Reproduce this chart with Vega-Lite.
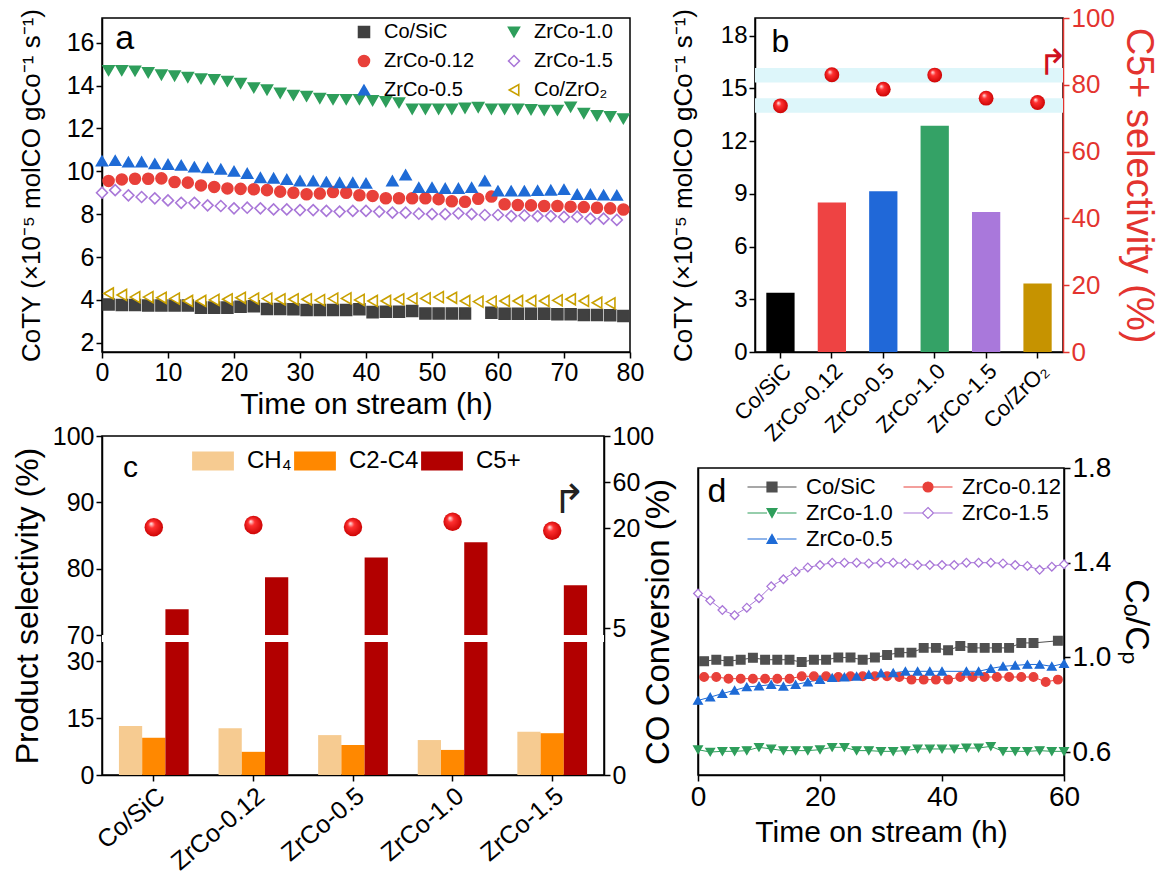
{
  "$schema": "https://vega.github.io/schema/vega-lite/v6.json",
  "background": "white",
  "padding": {"left": 10, "top": 4, "right": 2, "bottom": 2},
  "config": {
    "font": "Liberation Sans",
    "view": {"stroke": "black", "strokeWidth": 1.5},
    "axis": {"domainColor": "black", "domainWidth": 1.5, "tickColor": "black", "tickWidth": 1.5, "tickSize": 6, "labelColor": "black", "titleColor": "black", "titleFontWeight": "normal", "grid": false, "labelFlush": false, "labelOverlap": false, "zindex": 1, "labelFontSize": 24, "titleFontSize": 28},
    "legend": {"labelFont": "Liberation Sans", "labelColor": "black"},
    "text": {"font": "Liberation Sans"}
  },
  "datasets": {
    "dA": [
      {"sa":"Co/SiC","t":1,"v":3.79},{"sa":"Co/SiC","t":3,"v":3.76},{"sa":"Co/SiC","t":5,"v":3.76},{"sa":"Co/SiC","t":7,"v":3.74},{"sa":"Co/SiC","t":9,"v":3.74},{"sa":"Co/SiC","t":11,"v":3.74},{"sa":"Co/SiC","t":13,"v":3.74},{"sa":"Co/SiC","t":15,"v":3.64},{"sa":"Co/SiC","t":17,"v":3.64},{"sa":"Co/SiC","t":19,"v":3.64},{"sa":"Co/SiC","t":21,"v":3.68},{"sa":"Co/SiC","t":23,"v":3.7},{"sa":"Co/SiC","t":25,"v":3.58},{"sa":"Co/SiC","t":27,"v":3.58},{"sa":"Co/SiC","t":29,"v":3.56},{"sa":"Co/SiC","t":31,"v":3.53},{"sa":"Co/SiC","t":33,"v":3.53},{"sa":"Co/SiC","t":35,"v":3.53},{"sa":"Co/SiC","t":37,"v":3.53},{"sa":"Co/SiC","t":39,"v":3.56},{"sa":"Co/SiC","t":41,"v":3.43},{"sa":"Co/SiC","t":43,"v":3.45},{"sa":"Co/SiC","t":45,"v":3.45},{"sa":"Co/SiC","t":47,"v":3.48},{"sa":"Co/SiC","t":49,"v":3.37},{"sa":"Co/SiC","t":51,"v":3.37},{"sa":"Co/SiC","t":53,"v":3.37},{"sa":"Co/SiC","t":55,"v":3.37},{"sa":"Co/SiC","t":59,"v":3.4},{"sa":"Co/SiC","t":61,"v":3.35},{"sa":"Co/SiC","t":63,"v":3.35},{"sa":"Co/SiC","t":65,"v":3.35},{"sa":"Co/SiC","t":67,"v":3.35},{"sa":"Co/SiC","t":69,"v":3.33},{"sa":"Co/SiC","t":71,"v":3.33},{"sa":"Co/SiC","t":73,"v":3.3},{"sa":"Co/SiC","t":75,"v":3.3},{"sa":"Co/SiC","t":77,"v":3.28},{"sa":"Co/SiC","t":79,"v":3.25},
      {"sa":"Co/ZrO₂","t":1,"v":4.3},{"sa":"Co/ZrO₂","t":3,"v":4.23},{"sa":"Co/ZrO₂","t":5,"v":4.13},{"sa":"Co/ZrO₂","t":7,"v":4.13},{"sa":"Co/ZrO₂","t":9,"v":4.1},{"sa":"Co/ZrO₂","t":11,"v":4.06},{"sa":"Co/ZrO₂","t":13,"v":3.95},{"sa":"Co/ZrO₂","t":15,"v":3.95},{"sa":"Co/ZrO₂","t":17,"v":4.0},{"sa":"Co/ZrO₂","t":19,"v":4.03},{"sa":"Co/ZrO₂","t":21,"v":4.1},{"sa":"Co/ZrO₂","t":23,"v":4.06},{"sa":"Co/ZrO₂","t":25,"v":4.06},{"sa":"Co/ZrO₂","t":27,"v":4.03},{"sa":"Co/ZrO₂","t":29,"v":4.03},{"sa":"Co/ZrO₂","t":31,"v":4.03},{"sa":"Co/ZrO₂","t":33,"v":3.99},{"sa":"Co/ZrO₂","t":35,"v":4.06},{"sa":"Co/ZrO₂","t":37,"v":4.07},{"sa":"Co/ZrO₂","t":39,"v":4.0},{"sa":"Co/ZrO₂","t":41,"v":3.95},{"sa":"Co/ZrO₂","t":43,"v":3.95},{"sa":"Co/ZrO₂","t":45,"v":4.03},{"sa":"Co/ZrO₂","t":47,"v":4.06},{"sa":"Co/ZrO₂","t":49,"v":4.07},{"sa":"Co/ZrO₂","t":51,"v":4.13},{"sa":"Co/ZrO₂","t":53,"v":4.1},{"sa":"Co/ZrO₂","t":55,"v":3.95},{"sa":"Co/ZrO₂","t":57,"v":3.92},{"sa":"Co/ZrO₂","t":59,"v":3.92},{"sa":"Co/ZrO₂","t":61,"v":3.95},{"sa":"Co/ZrO₂","t":63,"v":3.95},{"sa":"Co/ZrO₂","t":65,"v":3.95},{"sa":"Co/ZrO₂","t":67,"v":3.95},{"sa":"Co/ZrO₂","t":69,"v":3.98},{"sa":"Co/ZrO₂","t":71,"v":4.03},{"sa":"Co/ZrO₂","t":73,"v":3.95},{"sa":"Co/ZrO₂","t":75,"v":3.87},{"sa":"Co/ZrO₂","t":77,"v":3.84},
      {"sa":"ZrCo-0.12","t":1,"v":9.55},{"sa":"ZrCo-0.12","t":3,"v":9.62},{"sa":"ZrCo-0.12","t":5,"v":9.65},{"sa":"ZrCo-0.12","t":7,"v":9.65},{"sa":"ZrCo-0.12","t":9,"v":9.67},{"sa":"ZrCo-0.12","t":11,"v":9.5},{"sa":"ZrCo-0.12","t":13,"v":9.47},{"sa":"ZrCo-0.12","t":15,"v":9.34},{"sa":"ZrCo-0.12","t":17,"v":9.27},{"sa":"ZrCo-0.12","t":19,"v":9.2},{"sa":"ZrCo-0.12","t":21,"v":9.18},{"sa":"ZrCo-0.12","t":23,"v":9.16},{"sa":"ZrCo-0.12","t":25,"v":9.12},{"sa":"ZrCo-0.12","t":27,"v":9.05},{"sa":"ZrCo-0.12","t":29,"v":9.0},{"sa":"ZrCo-0.12","t":31,"v":8.93},{"sa":"ZrCo-0.12","t":33,"v":8.96},{"sa":"ZrCo-0.12","t":35,"v":9.03},{"sa":"ZrCo-0.12","t":37,"v":9.0},{"sa":"ZrCo-0.12","t":39,"v":8.88},{"sa":"ZrCo-0.12","t":41,"v":8.85},{"sa":"ZrCo-0.12","t":43,"v":8.74},{"sa":"ZrCo-0.12","t":45,"v":8.74},{"sa":"ZrCo-0.12","t":47,"v":8.74},{"sa":"ZrCo-0.12","t":49,"v":8.74},{"sa":"ZrCo-0.12","t":51,"v":8.7},{"sa":"ZrCo-0.12","t":53,"v":8.6},{"sa":"ZrCo-0.12","t":55,"v":8.58},{"sa":"ZrCo-0.12","t":57,"v":8.72},{"sa":"ZrCo-0.12","t":59,"v":8.82},{"sa":"ZrCo-0.12","t":61,"v":8.46},{"sa":"ZrCo-0.12","t":63,"v":8.43},{"sa":"ZrCo-0.12","t":65,"v":8.41},{"sa":"ZrCo-0.12","t":67,"v":8.38},{"sa":"ZrCo-0.12","t":69,"v":8.38},{"sa":"ZrCo-0.12","t":71,"v":8.35},{"sa":"ZrCo-0.12","t":73,"v":8.33},{"sa":"ZrCo-0.12","t":75,"v":8.3},{"sa":"ZrCo-0.12","t":77,"v":8.27},{"sa":"ZrCo-0.12","t":79,"v":8.22},
      {"sa":"ZrCo-0.5","t":0,"v":10.48},{"sa":"ZrCo-0.5","t":2,"v":10.5},{"sa":"ZrCo-0.5","t":4,"v":10.43},{"sa":"ZrCo-0.5","t":6,"v":10.44},{"sa":"ZrCo-0.5","t":8,"v":10.35},{"sa":"ZrCo-0.5","t":10,"v":10.32},{"sa":"ZrCo-0.5","t":12,"v":10.28},{"sa":"ZrCo-0.5","t":14,"v":10.2},{"sa":"ZrCo-0.5","t":16,"v":10.17},{"sa":"ZrCo-0.5","t":18,"v":10.1},{"sa":"ZrCo-0.5","t":20,"v":10.0},{"sa":"ZrCo-0.5","t":22,"v":9.9},{"sa":"ZrCo-0.5","t":24,"v":9.7},{"sa":"ZrCo-0.5","t":26,"v":9.68},{"sa":"ZrCo-0.5","t":28,"v":9.62},{"sa":"ZrCo-0.5","t":30,"v":9.55},{"sa":"ZrCo-0.5","t":32,"v":9.55},{"sa":"ZrCo-0.5","t":34,"v":9.5},{"sa":"ZrCo-0.5","t":36,"v":9.47},{"sa":"ZrCo-0.5","t":38,"v":9.47},{"sa":"ZrCo-0.5","t":40,"v":9.44},{"sa":"ZrCo-0.5","t":44,"v":9.55},{"sa":"ZrCo-0.5","t":46,"v":9.83},{"sa":"ZrCo-0.5","t":48,"v":9.24},{"sa":"ZrCo-0.5","t":50,"v":9.24},{"sa":"ZrCo-0.5","t":52,"v":9.2},{"sa":"ZrCo-0.5","t":54,"v":9.2},{"sa":"ZrCo-0.5","t":56,"v":9.24},{"sa":"ZrCo-0.5","t":58,"v":9.55},{"sa":"ZrCo-0.5","t":60,"v":9.08},{"sa":"ZrCo-0.5","t":62,"v":9.08},{"sa":"ZrCo-0.5","t":64,"v":9.08},{"sa":"ZrCo-0.5","t":66,"v":9.1},{"sa":"ZrCo-0.5","t":68,"v":9.12},{"sa":"ZrCo-0.5","t":70,"v":9.15},{"sa":"ZrCo-0.5","t":72,"v":8.92},{"sa":"ZrCo-0.5","t":74,"v":8.92},{"sa":"ZrCo-0.5","t":76,"v":8.89},{"sa":"ZrCo-0.5","t":78,"v":8.88},
      {"sa":"ZrCo-1.0","t":1,"v":14.7},{"sa":"ZrCo-1.0","t":3,"v":14.7},{"sa":"ZrCo-1.0","t":5,"v":14.68},{"sa":"ZrCo-1.0","t":7,"v":14.6},{"sa":"ZrCo-1.0","t":9,"v":14.5},{"sa":"ZrCo-1.0","t":11,"v":14.45},{"sa":"ZrCo-1.0","t":13,"v":14.38},{"sa":"ZrCo-1.0","t":15,"v":14.32},{"sa":"ZrCo-1.0","t":17,"v":14.28},{"sa":"ZrCo-1.0","t":19,"v":14.2},{"sa":"ZrCo-1.0","t":21,"v":14.1},{"sa":"ZrCo-1.0","t":23,"v":13.9},{"sa":"ZrCo-1.0","t":25,"v":13.8},{"sa":"ZrCo-1.0","t":27,"v":13.65},{"sa":"ZrCo-1.0","t":29,"v":13.55},{"sa":"ZrCo-1.0","t":31,"v":13.5},{"sa":"ZrCo-1.0","t":33,"v":13.4},{"sa":"ZrCo-1.0","t":35,"v":13.35},{"sa":"ZrCo-1.0","t":37,"v":13.35},{"sa":"ZrCo-1.0","t":39,"v":13.35},{"sa":"ZrCo-1.0","t":41,"v":13.3},{"sa":"ZrCo-1.0","t":43,"v":13.25},{"sa":"ZrCo-1.0","t":45,"v":13.2},{"sa":"ZrCo-1.0","t":47,"v":12.9},{"sa":"ZrCo-1.0","t":49,"v":12.9},{"sa":"ZrCo-1.0","t":51,"v":12.9},{"sa":"ZrCo-1.0","t":53,"v":12.9},{"sa":"ZrCo-1.0","t":55,"v":12.95},{"sa":"ZrCo-1.0","t":57,"v":12.98},{"sa":"ZrCo-1.0","t":59,"v":12.9},{"sa":"ZrCo-1.0","t":61,"v":12.9},{"sa":"ZrCo-1.0","t":63,"v":12.9},{"sa":"ZrCo-1.0","t":65,"v":12.88},{"sa":"ZrCo-1.0","t":67,"v":12.85},{"sa":"ZrCo-1.0","t":69,"v":12.85},{"sa":"ZrCo-1.0","t":71,"v":13.0},{"sa":"ZrCo-1.0","t":73,"v":12.7},{"sa":"ZrCo-1.0","t":75,"v":12.6},{"sa":"ZrCo-1.0","t":77,"v":12.55},{"sa":"ZrCo-1.0","t":79,"v":12.45},
      {"sa":"ZrCo-1.5","t":0,"v":9.0},{"sa":"ZrCo-1.5","t":2,"v":9.12},{"sa":"ZrCo-1.5","t":4,"v":8.88},{"sa":"ZrCo-1.5","t":6,"v":8.8},{"sa":"ZrCo-1.5","t":8,"v":8.74},{"sa":"ZrCo-1.5","t":10,"v":8.64},{"sa":"ZrCo-1.5","t":12,"v":8.53},{"sa":"ZrCo-1.5","t":14,"v":8.53},{"sa":"ZrCo-1.5","t":16,"v":8.41},{"sa":"ZrCo-1.5","t":18,"v":8.38},{"sa":"ZrCo-1.5","t":20,"v":8.27},{"sa":"ZrCo-1.5","t":22,"v":8.3},{"sa":"ZrCo-1.5","t":24,"v":8.27},{"sa":"ZrCo-1.5","t":26,"v":8.22},{"sa":"ZrCo-1.5","t":28,"v":8.22},{"sa":"ZrCo-1.5","t":30,"v":8.19},{"sa":"ZrCo-1.5","t":32,"v":8.19},{"sa":"ZrCo-1.5","t":34,"v":8.15},{"sa":"ZrCo-1.5","t":36,"v":8.12},{"sa":"ZrCo-1.5","t":38,"v":8.15},{"sa":"ZrCo-1.5","t":40,"v":8.15},{"sa":"ZrCo-1.5","t":42,"v":8.12},{"sa":"ZrCo-1.5","t":44,"v":8.07},{"sa":"ZrCo-1.5","t":46,"v":8.07},{"sa":"ZrCo-1.5","t":48,"v":8.02},{"sa":"ZrCo-1.5","t":50,"v":8.0},{"sa":"ZrCo-1.5","t":52,"v":8.0},{"sa":"ZrCo-1.5","t":54,"v":8.04},{"sa":"ZrCo-1.5","t":56,"v":8.0},{"sa":"ZrCo-1.5","t":58,"v":7.96},{"sa":"ZrCo-1.5","t":60,"v":7.96},{"sa":"ZrCo-1.5","t":62,"v":7.91},{"sa":"ZrCo-1.5","t":64,"v":7.94},{"sa":"ZrCo-1.5","t":66,"v":7.91},{"sa":"ZrCo-1.5","t":68,"v":7.91},{"sa":"ZrCo-1.5","t":70,"v":7.87},{"sa":"ZrCo-1.5","t":72,"v":7.88},{"sa":"ZrCo-1.5","t":74,"v":7.79},{"sa":"ZrCo-1.5","t":76,"v":7.79},{"sa":"ZrCo-1.5","t":78,"v":7.73}
    ],
    "dB": [
      {"cat":"Co/SiC","coty":3.37,"sel":73.7},{"cat":"ZrCo-0.12","coty":8.5,"sel":83.0},{"cat":"ZrCo-0.5","coty":9.14,"sel":78.7},{"cat":"ZrCo-1.0","coty":12.87,"sel":82.9},{"cat":"ZrCo-1.5","coty":7.96,"sel":76.0},{"cat":"Co/ZrO₂","coty":3.9,"sel":74.7}
    ],
    "bandsB": [{"lo":80.7,"hi":85.0},{"lo":71.6,"hi":76.0}],
    "dC": [
      {"cat":"Co/SiC","prod":"CH₄","val":12.9},{"cat":"Co/SiC","prod":"C2-C4","val":9.8},{"cat":"Co/SiC","prod":"C5+","val":73.9},
      {"cat":"ZrCo-0.12","prod":"CH₄","val":12.3},{"cat":"ZrCo-0.12","prod":"C2-C4","val":6.1},{"cat":"ZrCo-0.12","prod":"C5+","val":78.7},
      {"cat":"ZrCo-0.5","prod":"CH₄","val":10.5},{"cat":"ZrCo-0.5","prod":"C2-C4","val":7.9},{"cat":"ZrCo-0.5","prod":"C5+","val":81.7},
      {"cat":"ZrCo-1.0","prod":"CH₄","val":9.2},{"cat":"ZrCo-1.0","prod":"C2-C4","val":6.6},{"cat":"ZrCo-1.0","prod":"C5+","val":84.0},
      {"cat":"ZrCo-1.5","prod":"CH₄","val":11.4},{"cat":"ZrCo-1.5","prod":"C2-C4","val":11.0},{"cat":"ZrCo-1.5","prod":"C5+","val":77.5}
    ],
    "convC": [
      {"cat":"Co/SiC","conv":20.6},{"cat":"ZrCo-0.12","conv":22.6},{"cat":"ZrCo-0.5","conv":20.9},{"cat":"ZrCo-1.0","conv":25.5},{"cat":"ZrCo-1.5","conv":17.3}
    ],
    "gapC": [{"lo":35,"hi":70}],
    "dD": [
      {"sd":"Co/SiC","t":1,"v":0.984},{"sd":"Co/SiC","t":3,"v":0.99},{"sd":"Co/SiC","t":5,"v":0.984},{"sd":"Co/SiC","t":7,"v":0.99},{"sd":"Co/SiC","t":9,"v":0.998},{"sd":"Co/SiC","t":11,"v":0.99},{"sd":"Co/SiC","t":13,"v":0.99},{"sd":"Co/SiC","t":15,"v":0.99},{"sd":"Co/SiC","t":17,"v":0.98},{"sd":"Co/SiC","t":19,"v":0.99},{"sd":"Co/SiC","t":21,"v":0.99},{"sd":"Co/SiC","t":23,"v":0.999},{"sd":"Co/SiC","t":25,"v":0.999},{"sd":"Co/SiC","t":27,"v":0.99},{"sd":"Co/SiC","t":29,"v":0.999},{"sd":"Co/SiC","t":31,"v":1.01},{"sd":"Co/SiC","t":33,"v":1.02},{"sd":"Co/SiC","t":35,"v":1.02},{"sd":"Co/SiC","t":37,"v":1.04},{"sd":"Co/SiC","t":39,"v":1.04},{"sd":"Co/SiC","t":41,"v":1.03},{"sd":"Co/SiC","t":43,"v":1.048},{"sd":"Co/SiC","t":45,"v":1.04},{"sd":"Co/SiC","t":47,"v":1.04},{"sd":"Co/SiC","t":49,"v":1.04},{"sd":"Co/SiC","t":51,"v":1.04},{"sd":"Co/SiC","t":53,"v":1.061},{"sd":"Co/SiC","t":55,"v":1.061},{"sd":"Co/SiC","t":59,"v":1.07},
      {"sd":"ZrCo-0.12","t":1,"v":0.917},{"sd":"ZrCo-0.12","t":3,"v":0.917},{"sd":"ZrCo-0.12","t":5,"v":0.91},{"sd":"ZrCo-0.12","t":7,"v":0.91},{"sd":"ZrCo-0.12","t":9,"v":0.91},{"sd":"ZrCo-0.12","t":11,"v":0.91},{"sd":"ZrCo-0.12","t":13,"v":0.91},{"sd":"ZrCo-0.12","t":15,"v":0.91},{"sd":"ZrCo-0.12","t":17,"v":0.92},{"sd":"ZrCo-0.12","t":19,"v":0.92},{"sd":"ZrCo-0.12","t":21,"v":0.92},{"sd":"ZrCo-0.12","t":23,"v":0.917},{"sd":"ZrCo-0.12","t":25,"v":0.92},{"sd":"ZrCo-0.12","t":27,"v":0.92},{"sd":"ZrCo-0.12","t":29,"v":0.92},{"sd":"ZrCo-0.12","t":31,"v":0.92},{"sd":"ZrCo-0.12","t":33,"v":0.917},{"sd":"ZrCo-0.12","t":35,"v":0.906},{"sd":"ZrCo-0.12","t":37,"v":0.906},{"sd":"ZrCo-0.12","t":39,"v":0.906},{"sd":"ZrCo-0.12","t":41,"v":0.906},{"sd":"ZrCo-0.12","t":43,"v":0.917},{"sd":"ZrCo-0.12","t":45,"v":0.917},{"sd":"ZrCo-0.12","t":47,"v":0.917},{"sd":"ZrCo-0.12","t":49,"v":0.917},{"sd":"ZrCo-0.12","t":51,"v":0.917},{"sd":"ZrCo-0.12","t":53,"v":0.917},{"sd":"ZrCo-0.12","t":55,"v":0.917},{"sd":"ZrCo-0.12","t":57,"v":0.896},{"sd":"ZrCo-0.12","t":59,"v":0.906},
      {"sd":"ZrCo-1.0","t":0,"v":0.61},{"sd":"ZrCo-1.0","t":2,"v":0.6},{"sd":"ZrCo-1.0","t":4,"v":0.603},{"sd":"ZrCo-1.0","t":6,"v":0.603},{"sd":"ZrCo-1.0","t":8,"v":0.606},{"sd":"ZrCo-1.0","t":10,"v":0.62},{"sd":"ZrCo-1.0","t":12,"v":0.613},{"sd":"ZrCo-1.0","t":14,"v":0.606},{"sd":"ZrCo-1.0","t":16,"v":0.606},{"sd":"ZrCo-1.0","t":18,"v":0.606},{"sd":"ZrCo-1.0","t":20,"v":0.61},{"sd":"ZrCo-1.0","t":22,"v":0.62},{"sd":"ZrCo-1.0","t":24,"v":0.62},{"sd":"ZrCo-1.0","t":26,"v":0.606},{"sd":"ZrCo-1.0","t":28,"v":0.606},{"sd":"ZrCo-1.0","t":30,"v":0.603},{"sd":"ZrCo-1.0","t":32,"v":0.603},{"sd":"ZrCo-1.0","t":34,"v":0.606},{"sd":"ZrCo-1.0","t":36,"v":0.613},{"sd":"ZrCo-1.0","t":38,"v":0.613},{"sd":"ZrCo-1.0","t":40,"v":0.613},{"sd":"ZrCo-1.0","t":42,"v":0.613},{"sd":"ZrCo-1.0","t":44,"v":0.617},{"sd":"ZrCo-1.0","t":46,"v":0.617},{"sd":"ZrCo-1.0","t":48,"v":0.624},{"sd":"ZrCo-1.0","t":50,"v":0.603},{"sd":"ZrCo-1.0","t":52,"v":0.603},{"sd":"ZrCo-1.0","t":54,"v":0.603},{"sd":"ZrCo-1.0","t":56,"v":0.606},{"sd":"ZrCo-1.0","t":58,"v":0.603},{"sd":"ZrCo-1.0","t":60,"v":0.603},
      {"sd":"ZrCo-1.5","t":0,"v":1.27},{"sd":"ZrCo-1.5","t":2,"v":1.24},{"sd":"ZrCo-1.5","t":4,"v":1.2},{"sd":"ZrCo-1.5","t":6,"v":1.178},{"sd":"ZrCo-1.5","t":8,"v":1.21},{"sd":"ZrCo-1.5","t":10,"v":1.25},{"sd":"ZrCo-1.5","t":12,"v":1.3},{"sd":"ZrCo-1.5","t":14,"v":1.33},{"sd":"ZrCo-1.5","t":16,"v":1.362},{"sd":"ZrCo-1.5","t":18,"v":1.38},{"sd":"ZrCo-1.5","t":20,"v":1.39},{"sd":"ZrCo-1.5","t":22,"v":1.4},{"sd":"ZrCo-1.5","t":24,"v":1.4},{"sd":"ZrCo-1.5","t":26,"v":1.4},{"sd":"ZrCo-1.5","t":28,"v":1.397},{"sd":"ZrCo-1.5","t":30,"v":1.4},{"sd":"ZrCo-1.5","t":32,"v":1.4},{"sd":"ZrCo-1.5","t":34,"v":1.397},{"sd":"ZrCo-1.5","t":36,"v":1.39},{"sd":"ZrCo-1.5","t":38,"v":1.39},{"sd":"ZrCo-1.5","t":40,"v":1.39},{"sd":"ZrCo-1.5","t":42,"v":1.39},{"sd":"ZrCo-1.5","t":44,"v":1.4},{"sd":"ZrCo-1.5","t":46,"v":1.4},{"sd":"ZrCo-1.5","t":48,"v":1.4},{"sd":"ZrCo-1.5","t":50,"v":1.397},{"sd":"ZrCo-1.5","t":52,"v":1.39},{"sd":"ZrCo-1.5","t":54,"v":1.386},{"sd":"ZrCo-1.5","t":56,"v":1.37},{"sd":"ZrCo-1.5","t":58,"v":1.383},{"sd":"ZrCo-1.5","t":60,"v":1.393},
      {"sd":"ZrCo-0.5","t":0,"v":0.818},{"sd":"ZrCo-0.5","t":2,"v":0.832},{"sd":"ZrCo-0.5","t":4,"v":0.847},{"sd":"ZrCo-0.5","t":6,"v":0.861},{"sd":"ZrCo-0.5","t":8,"v":0.875},{"sd":"ZrCo-0.5","t":10,"v":0.879},{"sd":"ZrCo-0.5","t":12,"v":0.885},{"sd":"ZrCo-0.5","t":14,"v":0.878},{"sd":"ZrCo-0.5","t":16,"v":0.885},{"sd":"ZrCo-0.5","t":18,"v":0.896},{"sd":"ZrCo-0.5","t":20,"v":0.906},{"sd":"ZrCo-0.5","t":22,"v":0.914},{"sd":"ZrCo-0.5","t":24,"v":0.917},{"sd":"ZrCo-0.5","t":26,"v":0.92},{"sd":"ZrCo-0.5","t":28,"v":0.927},{"sd":"ZrCo-0.5","t":30,"v":0.934},{"sd":"ZrCo-0.5","t":32,"v":0.935},{"sd":"ZrCo-0.5","t":34,"v":0.941},{"sd":"ZrCo-0.5","t":36,"v":0.941},{"sd":"ZrCo-0.5","t":38,"v":0.941},{"sd":"ZrCo-0.5","t":40,"v":0.941},{"sd":"ZrCo-0.5","t":44,"v":0.941},{"sd":"ZrCo-0.5","t":46,"v":0.941},{"sd":"ZrCo-0.5","t":48,"v":0.953},{"sd":"ZrCo-0.5","t":50,"v":0.962},{"sd":"ZrCo-0.5","t":52,"v":0.966},{"sd":"ZrCo-0.5","t":54,"v":0.97},{"sd":"ZrCo-0.5","t":56,"v":0.97},{"sd":"ZrCo-0.5","t":58,"v":0.962},{"sd":"ZrCo-0.5","t":60,"v":0.974}
    ]
  },
  "columns": 3,
  "bounds": "flush",
  "align": "none",
  "spacing": {"row": 84, "column": 0},
  "resolve": {"scale": {"color": "independent", "shape": "independent", "fill": "independent", "stroke": "independent"}, "legend": {"color": "independent", "shape": "independent", "fill": "independent", "stroke": "independent"}},
  "concat": [
    {
      "width": 528, "height": 334,
      "layer": [
        {
          "data": {"name": "dA"},
          "mark": {"type": "point", "filled": true, "size": 120, "strokeWidth": 1.6, "opacity": 1},
          "encoding": {
            "x": {"field": "t", "type": "quantitative", "scale": {"domain": [0, 80], "nice": false}, "axis": {"title": "Time on stream (h)", "values": [0,10,20,30,40,50,60,70,80], "labelFontSize": 25, "titleFontSize": 30, "titlePadding": 4}},
            "y": {"field": "v", "type": "quantitative", "scale": {"domain": [1.57, 17.15], "nice": false, "zero": false}, "axis": {"title": "CoTY (×10⁻⁵ molCO gCo⁻¹ s⁻¹)", "values": [2,4,6,8,10,12,14,16], "labelFontSize": 25, "titleFontSize": 26, "titlePadding": 22}},
            "shape": {"field": "sa", "type": "nominal", "scale": {"domain": ["Co/SiC","ZrCo-0.12","ZrCo-0.5","ZrCo-1.0","ZrCo-1.5","Co/ZrO₂"], "range": ["square","circle","triangle-up","triangle-down","diamond","triangle-left"]}, "legend": {"title": null, "orient": "none", "legendX": 252, "legendY": 4, "columns": 2, "columnPadding": 29, "rowPadding": 9, "labelFontSize": 20, "labelOffset": 10, "symbolSize": 120, "symbolStrokeWidth": 1.6}},
            "fill": {"field": "sa", "type": "nominal", "scale": {"domain": ["Co/SiC","ZrCo-0.12","ZrCo-0.5","ZrCo-1.0","ZrCo-1.5","Co/ZrO₂"], "range": ["#404040","#E8403A","#1F6BD6","#2E9E5B","#FFFFFF","#FFFFFF"]}, "legend": {"title": null, "orient": "none", "legendX": 252, "legendY": 4, "columns": 2, "columnPadding": 29, "rowPadding": 9, "labelFontSize": 20, "labelOffset": 10, "symbolSize": 120, "symbolStrokeWidth": 1.6}},
            "stroke": {"field": "sa", "type": "nominal", "scale": {"domain": ["Co/SiC","ZrCo-0.12","ZrCo-0.5","ZrCo-1.0","ZrCo-1.5","Co/ZrO₂"], "range": ["#404040","#E8403A","#1F6BD6","#2E9E5B","#A977D8","#C9A000"]}, "legend": {"title": null, "orient": "none", "legendX": 252, "legendY": 4, "columns": 2, "columnPadding": 29, "rowPadding": 9, "labelFontSize": 20, "labelOffset": 10, "symbolSize": 120, "symbolStrokeWidth": 1.6}}
          }
        },
        {
          "data": {"values": [{"t": 2.0, "v": 15.7, "lab": "a"}]},
          "mark": {"type": "text", "fontSize": 34, "align": "left", "baseline": "alphabetic"},
          "encoding": {"x": {"field": "t", "type": "quantitative"}, "y": {"field": "v", "type": "quantitative"}, "text": {"field": "lab"}}
        }
      ]
    },
    {
      "width": 125, "height": 1,
      "view": {"stroke": null},
      "data": {"values": [{"k": 0}]},
      "mark": {"type": "point", "opacity": 0},
      "encoding": {}
    },
    {
      "width": 308, "height": 334,
      "resolve": {"scale": {"y": "independent"}},
      "layer": [
        {
          "data": {"name": "bandsB"},
          "mark": {"type": "rect", "color": "#DDF6FA"},
          "encoding": {"y": {"field": "lo", "type": "quantitative", "scale": {"domain": [0, 100], "nice": false}, "axis": null}, "y2": {"field": "hi"}}
        },
        {
          "data": {"name": "dB"},
          "mark": {"type": "bar"},
          "encoding": {
            "x": {"field": "cat", "type": "nominal", "sort": null, "scale": {"domain": ["Co/SiC","ZrCo-0.12","ZrCo-0.5","ZrCo-1.0","ZrCo-1.5","Co/ZrO₂"], "paddingInner": 0.45, "paddingOuter": 0.22}, "axis": {"title": null, "labelAngle": -45, "labelFontSize": 22}},
            "y": {"field": "coty", "type": "quantitative", "scale": {"domain": [0, 19], "nice": false}, "axis": {"title": "CoTY (×10⁻⁵ molCO gCo⁻¹ s⁻¹)", "values": [0,3,6,9,12,15,18], "labelFontSize": 24, "titleFontSize": 26, "titlePadding": 24}},
            "color": {"field": "cat", "type": "nominal", "sort": null, "scale": {"domain": ["Co/SiC","ZrCo-0.12","ZrCo-0.5","ZrCo-1.0","ZrCo-1.5","Co/ZrO₂"], "range": ["#000000","#EE4343","#2068D8","#34A266","#A978DB","#C69300"]}, "legend": null}
          }
        },
        {
          "data": {"name": "dB"},
          "mark": {"type": "point", "filled": true, "size": 220, "strokeWidth": 0, "opacity": 1, "fill": {"gradient": "radial", "x1": 0.35, "y1": 0.3, "r1": 0.02, "x2": 0.5, "y2": 0.5, "r2": 0.55, "stops": [{"offset": 0, "color": "#FFE0E0"}, {"offset": 0.3, "color": "#FF3030"}, {"offset": 1, "color": "#C80000"}]}},
          "encoding": {
            "x": {"field": "cat", "type": "nominal", "sort": null},
            "y": {"field": "sel", "type": "quantitative", "scale": {"domain": [0, 100], "nice": false}, "axis": {"orient": "right", "title": "C5+ selectivity (%)", "values": [0,20,40,60,80,100], "domainColor": "#E3342F", "tickColor": "#E3342F", "labelColor": "#E3342F", "titleColor": "#E3342F", "labelFontSize": 26, "titleFontSize": 38, "titlePadding": 4}}
          }
        },
        {
          "data": {"values": [{"cat": "Co/ZrO₂", "y": 83, "lab": "↱"}]},
          "mark": {"type": "text", "font": "DejaVu Sans", "fontSize": 36, "color": "#D0101E", "align": "left", "baseline": "alphabetic"},
          "encoding": {"x": {"field": "cat", "type": "nominal", "sort": null}, "y": {"field": "y", "type": "quantitative", "scale": {"domain": [0, 100], "nice": false}, "axis": null}, "text": {"field": "lab"}}
        },
        {
          "data": {"values": [{"cat": "Co/SiC", "y": 17.07, "lab": "b"}]},
          "mark": {"type": "text", "fontSize": 32, "align": "center", "baseline": "alphabetic"},
          "encoding": {"x": {"field": "cat", "type": "nominal", "sort": null}, "y": {"field": "y", "type": "quantitative", "scale": {"domain": [0, 19], "nice": false}, "axis": null}, "text": {"field": "lab"}}
        }
      ]
    },
    {
      "width": 502, "height": 339,
      "resolve": {"scale": {"y": "independent"}},
      "layer": [
        {
          "data": {"name": "dC"},
          "mark": {"type": "bar"},
          "encoding": {
            "x": {"field": "cat", "type": "nominal", "sort": null, "scale": {"domain": ["Co/SiC","ZrCo-0.12","ZrCo-0.5","ZrCo-1.0","ZrCo-1.5"], "paddingInner": 0.3, "paddingOuter": 0.17}, "axis": {"title": null, "labelAngle": -40, "labelFontSize": 25}},
            "xOffset": {"field": "prod", "type": "nominal", "sort": null, "scale": {"domain": ["CH₄","C2-C4","C5+"], "paddingInner": 0, "paddingOuter": 0}},
            "y": {"field": "val", "type": "quantitative", "scale": {"domain": [0, 35, 70, 100], "range": [339, 206, 199, 0], "nice": false, "zero": false}, "axis": {"title": "Product selectivity (%)", "values": [0,15,30,70,80,90,100], "labelFontSize": 25, "titleFontSize": 32, "titlePadding": 8}},
            "color": {"field": "prod", "type": "nominal", "sort": null, "scale": {"domain": ["CH₄","C2-C4","C5+"], "range": ["#F6CB91","#FF8800","#B20000"]}, "legend": {"title": null, "orient": "none", "legendX": 99, "legendY": 13, "direction": "horizontal", "symbolType": "M-2.2,-1H2.2V1H-2.2Z", "symbolSize": 361, "symbolStrokeWidth": 0, "labelFontSize": 24, "labelOffset": 22, "columnPadding": 2}}
          }
        },
        {
          "data": {"name": "gapC"},
          "mark": {"type": "rect", "color": "white"},
          "encoding": {"y": {"field": "lo", "type": "quantitative", "scale": {"domain": [0, 35, 70, 100], "range": [339, 206, 199, 0], "nice": false, "zero": false}, "axis": null}, "y2": {"field": "hi"}}
        },
        {
          "data": {"name": "convC"},
          "mark": {"type": "point", "filled": true, "size": 340, "strokeWidth": 0, "opacity": 1, "fill": {"gradient": "radial", "x1": 0.35, "y1": 0.3, "r1": 0.02, "x2": 0.5, "y2": 0.5, "r2": 0.55, "stops": [{"offset": 0, "color": "#FFE0E0"}, {"offset": 0.3, "color": "#FF3030"}, {"offset": 1, "color": "#C80000"}]}},
          "encoding": {
            "x": {"field": "cat", "type": "nominal", "sort": null},
            "y": {"field": "conv", "type": "quantitative", "scale": {"domain": [0, 8, 20, 100], "range": [339, 104, 92, 0], "nice": false, "zero": false}, "axis": {"orient": "right", "title": null, "values": [0,5,20,60,100], "labelFontSize": 25}}
          }
        },
        {
          "data": {"values": [{"cat": "ZrCo-1.5", "y": 33, "lab": "↱"}]},
          "mark": {"type": "text", "font": "DejaVu Sans", "fontSize": 40, "color": "#222222", "align": "left", "baseline": "alphabetic"},
          "encoding": {"x": {"field": "cat", "type": "nominal", "sort": null}, "y": {"field": "y", "type": "quantitative", "scale": {"domain": [0, 8, 20, 100], "range": [339, 104, 92, 0], "nice": false, "zero": false}, "axis": null}, "text": {"field": "lab"}}
        },
        {
          "data": {"values": [{"cat": "Co/SiC", "prod": "CH₄", "y": 93.8, "lab": "c"}]},
          "mark": {"type": "text", "fontSize": 30, "align": "center", "baseline": "alphabetic"},
          "encoding": {"x": {"field": "cat", "type": "nominal", "sort": null}, "xOffset": {"field": "prod", "type": "nominal", "sort": null}, "y": {"field": "y", "type": "quantitative", "scale": {"domain": [0, 35, 70, 100], "range": [339, 206, 199, 0], "nice": false, "zero": false}, "axis": null}, "text": {"field": "lab"}}
        }
      ]
    },
    {
      "bounds": "flush",
      "spacing": 0,
      "hconcat": [
        {
          "width": 68, "height": 1,
          "view": {"stroke": null},
          "data": {"values": [{"k": 0}]},
          "mark": {"type": "point", "opacity": 0},
          "encoding": {}
        },
        {
          "bounds": "flush",
          "spacing": 30,
          "vconcat": [
            {
              "width": 366, "height": 2,
              "view": {"stroke": null},
              "data": {"values": [{"k": 0}]},
              "mark": {"type": "point", "opacity": 0},
              "encoding": {}
            },
            {
              "width": 366, "height": 307,
              "resolve": {"scale": {"y": "independent", "shape": "independent", "fill": "independent", "stroke": "independent", "color": "independent"}, "legend": {"shape": "independent", "fill": "independent", "stroke": "independent", "color": "independent"}},
              "layer": [
                {
                  "data": {"name": "dD"},
                  "mark": {"type": "line", "strokeWidth": 1},
                  "encoding": {
                    "x": {"field": "t", "type": "quantitative", "scale": {"domain": [0, 60], "nice": false}, "axis": {"title": "Time on stream (h)", "values": [0,20,40,60], "labelFontSize": 28, "titleFontSize": 30, "titlePadding": 6}},
                    "y": {"field": "v", "type": "quantitative", "scale": {"domain": [0.503, 1.8], "nice": false, "zero": false}, "axis": {"orient": "left", "title": "CO Conversion (%)", "labels": false, "ticks": false, "titleFontSize": 33, "titlePadding": 23}},
                    "color": {"field": "sd", "type": "nominal", "scale": {"domain": ["Co/SiC","ZrCo-0.12","ZrCo-1.0","ZrCo-1.5","ZrCo-0.5"], "range": ["#505050","#E8403A","#2E9E5B","#A977D8","#1E6BD6"]}, "legend": null},
                    "order": {"field": "t", "type": "quantitative"}
                  }
                },
                {
                  "data": {"name": "dD"},
                  "mark": {"type": "point", "filled": true, "size": 75, "strokeWidth": 1.3, "opacity": 1},
                  "encoding": {
                    "x": {"field": "t", "type": "quantitative"},
                    "y": {"field": "v", "type": "quantitative", "scale": {"domain": [0.503, 1.8], "nice": false, "zero": false}, "axis": {"orient": "right", "title": "Cₒ/Cₚ", "values": [0.6, 1.0, 1.4, 1.8], "format": ".1f", "labelFontSize": 28, "titleFontSize": 34, "titlePadding": 8}},
                    "shape": {"field": "sd", "type": "nominal", "scale": {"domain": ["Co/SiC","ZrCo-0.12","ZrCo-1.0","ZrCo-1.5","ZrCo-0.5"], "range": ["square","circle","triangle-down","diamond","triangle-up"]}, "legend": null},
                    "fill": {"field": "sd", "type": "nominal", "scale": {"domain": ["Co/SiC","ZrCo-0.12","ZrCo-1.0","ZrCo-1.5","ZrCo-0.5"], "range": ["#505050","#E8403A","#2E9E5B","#FFFFFF","#1E6BD6"]}, "legend": null},
                    "stroke": {"field": "sd", "type": "nominal", "scale": {"domain": ["Co/SiC","ZrCo-0.12","ZrCo-1.0","ZrCo-1.5","ZrCo-0.5"], "range": ["#505050","#E8403A","#2E9E5B","#A977D8","#1E6BD6"]}, "legend": null}
                  }
                },
                {
                  "data": {"name": "dD"},
                  "transform": [{"filter": "false"}],
                  "mark": {"type": "point", "filled": true, "opacity": 1},
                  "encoding": {
                    "shape": {"field": "sd", "type": "nominal", "scale": {"domain": ["Co/SiC","ZrCo-1.0","ZrCo-0.5","ZrCo-0.12","ZrCo-1.5"], "range": ["M-4.9,0H-1M1,0H4.9M-1,-1H1V1H-1Z", "M-4.9,0H-1M1,0H4.9M-1,-0.9L1,-0.9L0,0.9Z", "M-4.9,0H-1M1,0H4.9M-1,0.9L1,0.9L0,-0.9Z", "M-4.9,0H-1M1,0H4.9M-1,0A1,1,0,1,0,1,0A1,1,0,1,0,-1,0Z", "M-4.9,0H-1.1M1.1,0H4.9M0,-1.1L1.1,0L0,1.1L-1.1,0Z"]}, "legend": {"title": null, "orient": "none", "legendX": 63, "legendY": 8, "columns": 2, "columnPadding": 8, "rowPadding": 4, "labelFontSize": 22, "labelOffset": 23, "symbolSize": 100, "symbolStrokeWidth": 1.2}},
                    "fill": {"field": "sd", "type": "nominal", "scale": {"domain": ["Co/SiC","ZrCo-1.0","ZrCo-0.5","ZrCo-0.12","ZrCo-1.5"], "range": ["#505050","#2E9E5B","#1E6BD6","#E8403A","#FFFFFF"]}, "legend": {"title": null, "orient": "none", "legendX": 63, "legendY": 8, "columns": 2, "columnPadding": 8, "rowPadding": 4, "labelFontSize": 22, "labelOffset": 23, "symbolSize": 100, "symbolStrokeWidth": 1.2}},
                    "stroke": {"field": "sd", "type": "nominal", "scale": {"domain": ["Co/SiC","ZrCo-1.0","ZrCo-0.5","ZrCo-0.12","ZrCo-1.5"], "range": ["#505050","#2E9E5B","#1E6BD6","#E8403A","#A977D8"]}, "legend": {"title": null, "orient": "none", "legendX": 63, "legendY": 8, "columns": 2, "columnPadding": 8, "rowPadding": 4, "labelFontSize": 22, "labelOffset": 23, "symbolSize": 100, "symbolStrokeWidth": 1.2}}
                  }
                },
                {
                  "data": {"values": [{"t": 3.1, "v": 1.656, "lab": "d"}]},
                  "mark": {"type": "text", "fontSize": 34, "align": "center", "baseline": "alphabetic"},
                  "encoding": {"x": {"field": "t", "type": "quantitative"}, "y": {"field": "v", "type": "quantitative", "scale": {"domain": [0.503, 1.8], "nice": false, "zero": false}, "axis": null}, "text": {"field": "lab"}}
                }
              ]
            }
          ]
        }
      ]
    }
  ]
}
